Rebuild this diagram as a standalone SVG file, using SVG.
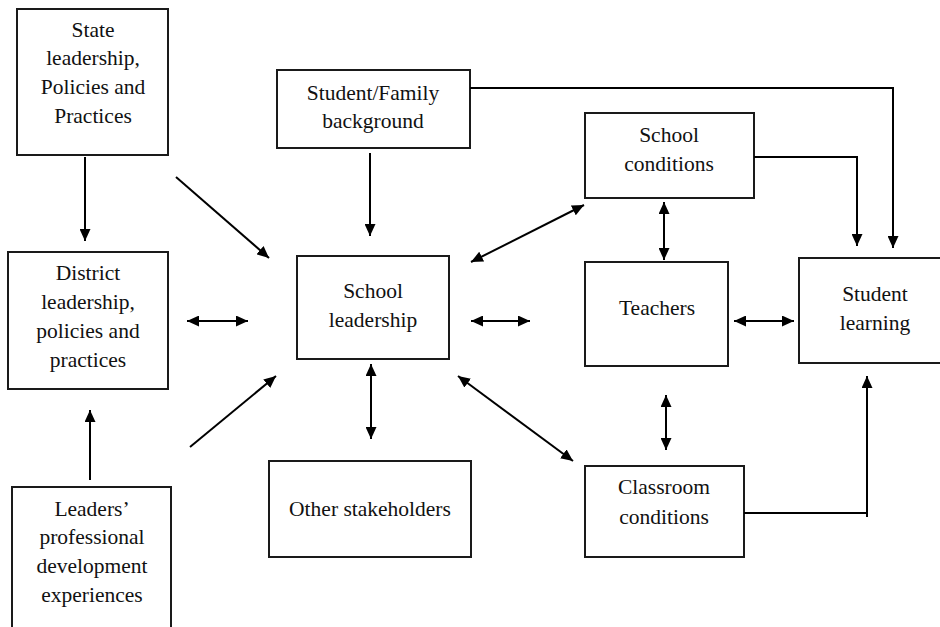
<svg xmlns="http://www.w3.org/2000/svg" width="940" height="627" viewBox="0 0 940 627">
<style>
.box{fill:#fff;stroke:#1a1a1a;stroke-width:2}
.c{fill:none;stroke:#000;stroke-width:2}
</style>
<defs>
<marker id="ah" viewBox="0 0 12 11" refX="12" refY="5.5" markerWidth="12" markerHeight="11" markerUnits="userSpaceOnUse" orient="auto-start-reverse">
<path d="M0,0 L12,5.5 L0,11 z" fill="#000"/>
</marker>
</defs>
<rect width="940" height="627" fill="#fff"/>
<g font-family="Liberation Serif, serif" font-size="21.5" fill="#111" text-anchor="middle">
<g id="state"><rect class="box" x="17" y="9" width="151" height="146"/>
<text x="93" y="37">State</text><text x="93" y="65">leadership,</text><text x="93" y="94">Policies and</text><text x="93" y="123">Practices</text></g>
<g id="district"><rect class="box" x="8" y="252" width="160" height="137"/>
<text x="88" y="280">District</text><text x="88" y="309">leadership,</text><text x="88" y="338">policies and</text><text x="88" y="367">practices</text></g>
<g id="leaders"><rect class="box" x="12" y="487" width="159" height="145"/>
<text x="92" y="516">Leaders&#8217;</text><text x="92" y="544">professional</text><text x="92" y="573">development</text><text x="92" y="602">experiences</text></g>
<g id="family"><rect class="box" x="277" y="70" width="193" height="78"/>
<text x="373" y="100">Student/Family</text><text x="373" y="128">background</text></g>
<g id="schoolLeadership"><rect class="box" x="297" y="256" width="152" height="103"/>
<text x="373" y="298">School</text><text x="373" y="327">leadership</text></g>
<g id="other"><rect class="box" x="269" y="461" width="202" height="96"/>
<text x="370" y="516">Other stakeholders</text></g>
<g id="schoolConditions"><rect class="box" x="585" y="113" width="169" height="85"/>
<text x="669" y="142">School</text><text x="669" y="171">conditions</text></g>
<g id="teachers"><rect class="box" x="585" y="262" width="143" height="104"/>
<text x="657" y="315">Teachers</text></g>
<g id="studentLearning"><rect class="box" x="799" y="258" width="145" height="105"/>
<text x="875" y="301">Student</text><text x="875" y="330">learning</text></g>
<g id="classroom"><rect class="box" x="585" y="466" width="159" height="91"/>
<text x="664" y="494">Classroom</text><text x="664" y="524">conditions</text></g>
</g>
<g id="connectors">
<line class="c" x1="85" y1="157" x2="85" y2="241" marker-end="url(#ah)"/>
<line class="c" x1="176" y1="177" x2="269" y2="258" marker-end="url(#ah)"/>
<line class="c" x1="187" y1="321" x2="248" y2="321" marker-start="url(#ah)" marker-end="url(#ah)"/>
<line class="c" x1="90" y1="480" x2="90" y2="410" marker-end="url(#ah)"/>
<line class="c" x1="190" y1="447" x2="276" y2="376" marker-end="url(#ah)"/>
<line class="c" x1="371" y1="364" x2="371" y2="439" marker-start="url(#ah)" marker-end="url(#ah)"/>
<line class="c" x1="370" y1="153" x2="370" y2="236" marker-end="url(#ah)"/>
<polyline class="c" points="470,88 893,88 893,248" marker-end="url(#ah)"/>
<polyline class="c" points="754,157 857,157 857,246" marker-end="url(#ah)"/>
<line class="c" x1="471" y1="262" x2="584" y2="205" marker-start="url(#ah)" marker-end="url(#ah)"/>
<line class="c" x1="664" y1="202" x2="664" y2="260" marker-start="url(#ah)" marker-end="url(#ah)"/>
<line class="c" x1="471" y1="321" x2="530" y2="321" marker-start="url(#ah)" marker-end="url(#ah)"/>
<line class="c" x1="734" y1="321" x2="794" y2="321" marker-start="url(#ah)" marker-end="url(#ah)"/>
<line class="c" x1="666" y1="395" x2="666" y2="450" marker-start="url(#ah)" marker-end="url(#ah)"/>
<line class="c" x1="458" y1="376" x2="573" y2="461" marker-start="url(#ah)" marker-end="url(#ah)"/>
<line class="c" x1="744" y1="513" x2="867" y2="513"/>
<line class="c" x1="867" y1="517" x2="867" y2="376" marker-end="url(#ah)"/>
</g>
</svg>
